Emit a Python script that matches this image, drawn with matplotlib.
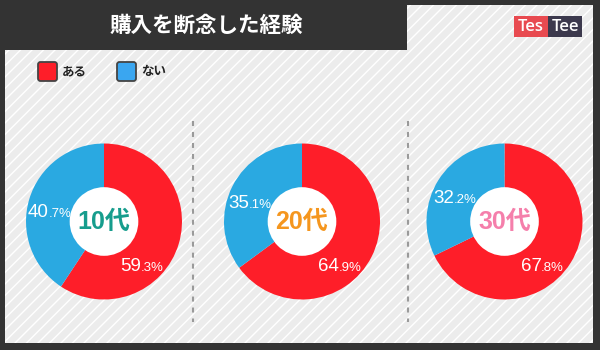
import numpy as np
import matplotlib
matplotlib.use("Agg")
import matplotlib.pyplot as plt
from matplotlib.patches import Rectangle, FancyBboxPatch, Circle

plt.rcParams['font.family'] = ['Noto Sans CJK JP', 'DejaVu Sans']
plt.rcParams['lines.scale_dashes'] = False

# ---- data ----
title = "購入を断念した経験"
groups = ["10代", "20代", "30代"]
aru = [59.3, 64.9, 67.8]      # ある
nai = [40.7, 35.1, 32.2]      # ない
series_labels = ["ある", "ない"]
group_colors = ["#169d8d", "#f5961e", "#f57fab"]

RED = "#fe1e29"
BLUE = "#2aa9e1"

W, H = 600, 350
fig = plt.figure(figsize=(6, 3.5), dpi=100, facecolor="#333333")
ax = fig.add_axes([0, 0, 1, 1])
ax.set_xlim(0, W)
ax.set_ylim(H, 0)
ax.axis("off")

# panel with diagonal stripes
panel = Rectangle((5, 5), 588, 338, facecolor="#ececec", edgecolor="none", zorder=0)
ax.add_patch(panel)
for c in np.arange(-10, 600 + 350 + 20, 11.5):
    ln, = ax.plot([c - 400, c], [400, 0], color="white", lw=1.0, zorder=1, solid_capstyle="butt")
    ln.set_clip_path(panel)

# title bar
ax.add_patch(Rectangle((0, 0), 407, 50, facecolor="#333333", edgecolor="none", zorder=2))
ax.text(206, 25, title, color="white", fontsize=15.5, fontweight="bold",
        ha="center", va="center", zorder=3)

# logo
ax.add_patch(Rectangle((514, 16), 34, 21, facecolor="#e84a50", edgecolor="none", zorder=2))
ax.add_patch(Rectangle((548, 16), 34, 21, facecolor="#3c394d", edgecolor="none", zorder=2))
ax.text(531, 27, "Tes", color="white", fontsize=12, family="Open Sans", fontweight="semibold",
        ha="center", va="center", zorder=3)
ax.text(565, 27, "Tee", color="white", fontsize=12, family="Open Sans", fontweight="semibold",
        ha="center", va="center", zorder=3)

# legend
for x0, col, lab in [(38, RED, series_labels[0]), (117, "#3aa6f0", series_labels[1])]:
    ax.add_patch(FancyBboxPatch((x0, 62), 19, 19, boxstyle="round,pad=0,rounding_size=2.5",
                                facecolor=col, edgecolor="#444444", lw=1.3, zorder=3))
    ax.text(x0 + 24, 72, lab, color="#222222", fontsize=9, fontweight="bold",
            ha="left", va="center", zorder=3)

# separators
for xs in [193, 408]:
    ax.plot([xs, xs], [121, 322], color="#9a9a9a", lw=1.5,
            linestyle=(0, (3.6, 4.3)), zorder=2)

# donuts
centers = [(104, 221.5), (302, 221.5), (504.5, 221.5)]
R = 78.0
for (cx, cy), g, a, n, gc in zip(centers, groups, aru, nai, group_colors):
    dax = fig.add_axes([(cx - R) / W, 1 - (cy + R) / H, 2 * R / W, 2 * R / H])
    dax.pie([a, n], colors=[RED, BLUE], startangle=90, counterclock=False,
            radius=1.0, wedgeprops=dict(linewidth=0))
    dax.add_patch(Circle((0, 0), 0.44, facecolor="white", edgecolor="none", zorder=5))
    dax.set_xlim(-1, 1)
    dax.set_ylim(-1, 1)
    dax.set_aspect("equal")
    dax.axis("off")
    dax.text(0, 0, g, color=gc, fontsize=18, fontweight="bold",
             family=["Liberation Sans", "Noto Sans CJK JP"],
             ha="center", va="center", zorder=6)

    # percent labels
    tot = a + n
    mid_blue = np.deg2rad(360 * (a + n / 2) / tot - 6)
    pos_red = (37 / R, -43 / R)
    pos_blue = (0.73 * np.sin(mid_blue) + 0.01, 0.73 * np.cos(mid_blue))
    for (lx, ly), v in [(pos_red, a), (pos_blue, n)]:
        s = f"{v:.1f}"
        ip, dp = s.split(".")
        yb = ly - 6.5 / R
        dax.text(lx, yb, ip, color="white", fontsize=13.5, family="Liberation Sans",
                 ha="right", va="baseline", zorder=7)
        dax.text(lx - 0.5 / R, yb, "." + dp + "%", color="white", fontsize=9.5,
                 family="Liberation Sans", ha="left", va="baseline", zorder=7)

fig.savefig("out.png", dpi=100, facecolor=fig.get_facecolor())
